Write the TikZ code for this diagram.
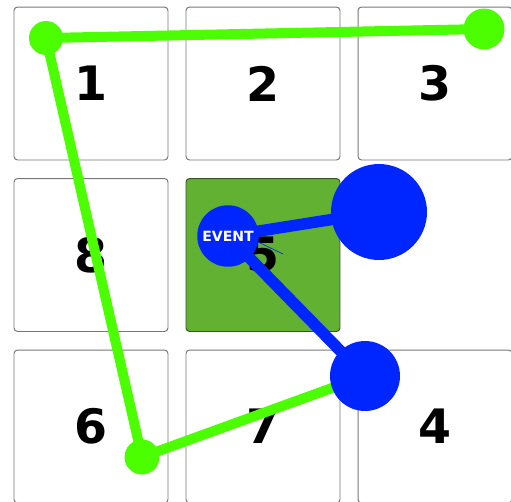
\documentclass[tikz,border=0pt]{standalone}
\usepackage{fontspec}
\setsansfont{DejaVu Sans}
\usepackage{tikz}
\usetikzlibrary{positioning}
\definecolor{gdedge}{RGB}{120,120,120}
\definecolor{gdhome}{RGB}{99,177,50}
\definecolor{gdhomeedge}{RGB}{60,85,40}
\definecolor{gdpath}{RGB}{76,255,0}
\definecolor{gdevt}{RGB}{0,38,255}
\tikzset{
  cell/.style={
    draw=gdedge, line width=0.55pt, rounded corners=2pt, fill=white,
    minimum width=3.08cm, minimum height=3.06cm, inner sep=0pt,
    font=\sffamily\bfseries\fontsize{27}{27}\selectfont
  },
  homecell/.style={cell, fill=gdhome, draw=gdhomeedge},
  gpath/.style={draw=gdpath, line width=0.2cm},
  bpath/.style={draw=gdevt, line width=0.23cm},
  gdot/.style={circle, fill=gdpath, inner sep=0pt},
  bdot/.style={circle, fill=gdevt, inner sep=0pt,
    text=white, font=\sffamily\bfseries\fontsize{8}{8}\selectfont},
  every picture/.append style={line join=round}
}
\begin{document}
\begin{tikzpicture}[x=0.02cm,y=-0.02cm]
  \useasboundingbox (0,0) rectangle (511,501);
  \clip (0,0) rectangle (511,501);
  % grid of cells, home cell in the middle
  \foreach \n/\c/\r in {1/0/0,2/1/0,3/2/0,8/0/1,6/0/2,7/1/2,4/2/2}
    \node[cell] (sq\n) at (91+172*\c,83.5+171.5*\r) {\n};
  \node[homecell] (sq5) at (263,255) {5};
  % route points
  \coordinate (p1) at (46,38);
  \coordinate (p2) at (484,29);
  \coordinate (p3) at (142,457);
  \coordinate (e0) at (228,236);
  \coordinate (e1) at (379,212);
  \coordinate (e2) at (365,376);
  \draw[gpath] (p1) -- (p2);
  \draw[gpath] (p1) -- (p3);
  \draw[gpath] (p3) -- (e2);
  \node[gdot, minimum size=0.68cm] (g1) at (p1) {};
  \node[gdot, minimum size=0.82cm] (g2) at (p2) {};
  \node[gdot, minimum size=0.70cm] (g3) at (p3) {};
  \draw[bpath] (e0) -- (e1);
  \draw[bpath] (e0) -- (e2);
  \draw[gdevt, line width=0.4pt] (258,242) -- (283,254);
  \node[bdot, minimum size=1.92cm] (ebig) at (e1) {};
  \node[bdot, minimum size=1.40cm] (eend) at (e2) {};
  \node[bdot, minimum size=1.23cm] (evt) at (e0) {EVENT};
\end{tikzpicture}
\end{document}
